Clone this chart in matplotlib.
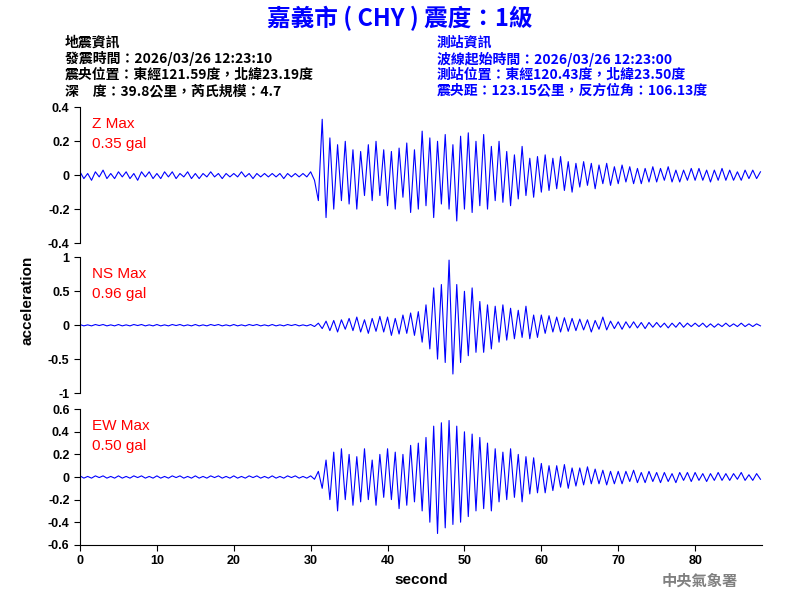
import numpy as np
import matplotlib
matplotlib.use("Agg")
import matplotlib.pyplot as plt

plt.rcParams['font.family'] = ['Liberation Sans', 'Noto Sans CJK TC', 'DejaVu Sans']

# peak values, one every 0.5 s
dt = 0.5
z_noise = [0.02,-0.02,0.01,-0.03,0.02,-0.01,0.03,-0.02,0.01,-0.02,
           0.02,-0.01,0.02,-0.02,0.01,-0.03,0.02,-0.01,0.02,-0.02,
           0.01,-0.02,0.02,-0.01,0.02,-0.02,0.01,-0.01,0.02,-0.02,
           0.01,-0.02,0.01,-0.01,0.02,-0.01,0.01,-0.02,0.01,-0.01,
           0.01,-0.01,0.02,-0.01,0.01,-0.02,0.01,-0.01,0.01,-0.01,
           0.01,-0.01,0.01,-0.02,0.01,-0.01,0.01,-0.01,0.01,-0.01]
z_event = [0.02,-0.03,-0.15,0.33,-0.25,0.22,-0.2,0.18,-0.15,0.2,
           -0.17,0.15,-0.2,0.14,-0.12,0.18,-0.15,0.2,-0.12,0.15,
           -0.18,0.14,-0.2,0.16,-0.13,0.19,-0.22,0.15,-0.2,0.26,
           -0.18,0.22,-0.25,0.2,-0.17,0.24,-0.2,0.18,-0.27,0.23,
           -0.2,0.25,-0.22,0.2,-0.18,0.24,-0.2,0.17,-0.15,0.2,
           -0.16,0.14,-0.18,0.12,-0.14,0.17,-0.12,0.1,-0.13,0.11,
           -0.1,0.12,-0.09,0.1,-0.08,0.11,-0.09,0.08,-0.1,0.07,
           -0.07,0.08,-0.06,0.07,-0.08,0.06,-0.05,0.07,-0.06,0.05,
           -0.05,0.06,-0.04,0.05,-0.05,0.04,-0.05,0.04,-0.04,0.05,
           -0.04,0.04,-0.03,0.05,-0.04,0.03,-0.04,0.03,-0.03,0.04,
           -0.03,0.04,-0.03,0.03,-0.04,0.03,-0.03,0.04,-0.03,0.03,
           -0.03,0.02,-0.03,0.03,-0.02,0.03,-0.02,0.02]
small_noise = [0.01,-0.01,0.005,-0.01,0.01,-0.005,0.01,-0.01,0.005,-0.01] * 6
ns_event = [0.01,-0.02,0.03,-0.05,0.06,-0.08,0.07,-0.1,0.08,-0.06,
            0.1,-0.08,0.12,-0.1,0.08,-0.12,0.1,-0.09,0.13,-0.1,
            0.12,-0.15,0.1,-0.13,0.15,-0.12,0.18,-0.15,0.2,-0.25,
            0.3,-0.35,0.55,-0.5,0.6,-0.55,0.96,-0.72,0.6,-0.55,
            0.5,-0.45,0.55,-0.4,0.35,-0.4,0.3,-0.35,0.28,-0.25,
            0.3,-0.22,0.25,-0.2,0.22,-0.18,0.28,-0.2,0.15,-0.18,
            0.15,-0.12,0.14,-0.1,0.12,-0.1,0.11,-0.09,0.1,-0.08,
            0.09,-0.07,0.08,-0.1,0.07,-0.06,0.12,-0.07,0.06,-0.05,
            0.05,-0.06,0.05,-0.04,0.05,-0.04,0.04,-0.05,0.04,-0.03,
            0.04,-0.03,0.03,-0.04,0.03,-0.03,0.04,-0.03,0.03,-0.02,
            0.03,-0.02,0.03,-0.03,0.02,-0.03,0.02,-0.02,0.03,-0.02,
            0.02,-0.02,0.03,-0.02,0.02,-0.02,0.02,-0.01]
ew_event = [0.01,-0.02,0.05,-0.1,0.15,-0.2,0.22,-0.3,0.25,-0.2,
            0.2,-0.25,0.18,-0.22,0.25,-0.2,0.15,-0.25,0.2,-0.18,
            0.25,-0.2,0.22,-0.28,0.2,-0.25,0.28,-0.22,0.3,-0.3,
            0.35,-0.4,0.45,-0.5,0.48,-0.45,0.5,-0.42,0.45,-0.4,
            0.4,-0.35,0.38,-0.3,0.35,-0.28,0.3,-0.3,0.25,-0.22,
            0.22,-0.2,0.25,-0.18,0.2,-0.22,0.18,-0.15,0.17,-0.14,
            0.12,-0.14,0.1,-0.12,0.1,-0.09,0.11,-0.1,0.08,-0.08,
            0.08,-0.07,0.09,-0.06,0.07,-0.06,0.06,-0.07,0.05,-0.06,
            0.05,-0.06,0.05,-0.04,0.06,-0.05,0.04,-0.05,0.05,-0.04,
            0.04,-0.05,0.04,-0.04,0.03,-0.05,0.04,-0.03,0.04,-0.04,
            0.04,-0.03,0.03,-0.04,0.03,-0.03,0.04,-0.03,0.03,-0.03,
            0.03,-0.02,0.04,-0.03,0.02,-0.03,0.03,-0.02]

z = np.array(z_noise + z_event)
ns = np.array(small_noise + ns_event)
ew = np.array(small_noise + ew_event)
channels = ["Z", "NS", "EW"]
peaks = ["0.35", "0.96", "0.50"]
ylims = [(-0.4, 0.4), (-1, 1), (-0.6, 0.6)]
yticks = [[-0.4, -0.2, 0, 0.2, 0.4], [-1, -0.5, 0, 0.5, 1],
          [-0.6, -0.4, -0.2, 0, 0.2, 0.4, 0.6]]

fig = plt.figure(figsize=(8, 6), dpi=100)
bottoms = [0.595, 0.345, 0.092]
cjk = ['Noto Sans CJK TC', 'DejaVu Sans']

for i, data in enumerate([z, ns, ew]):
    ax = fig.add_axes([0.1, bottoms[i], 0.8525, 0.226])
    t = np.arange(len(data)) * dt
    ax.plot(t, data, color="blue", lw=0.8)
    ax.set_xlim(0, 88.7)
    ax.set_ylim(*ylims[i])
    ax.set_yticks(yticks[i])
    ax.set_yticklabels([f"{v:g}" for v in yticks[i]], fontsize=9, fontweight="bold")
    for s in ["top", "right"]:
        ax.spines[s].set_visible(False)
    if i < 2:
        ax.spines["bottom"].set_visible(False)
        ax.set_xticks([])
    else:
        ax.set_xticks(range(0, 90, 10))
        ax.set_xticklabels([str(v) for v in range(0, 90, 10)], fontsize=9, fontweight="bold")
        ax.set_xlabel("second", fontsize=11, fontweight="bold")
    ax.tick_params(direction="out", length=4)
    ax.text(0.018, 0.93, f"{channels[i]} Max", transform=ax.transAxes,
            color="red", fontsize=11, va="top")
    ax.text(0.018, 0.78, f"{peaks[i]} gal", transform=ax.transAxes,
            color="red", fontsize=11, va="top")

fig.text(0.035, 0.5, "acceleration", rotation=90, ha="center", va="center",
         fontsize=11, fontweight="bold")
fig.text(0.5, 0.97, "嘉義市 ( CHY ) 震度：1級", ha="center", va="center",
         fontsize=17, fontweight="bold", color="blue", family=cjk)
left = ["地震資訊", "發震時間：2026/03/26 12:23:10",
        "震央位置：東經121.59度，北緯23.19度", "深　度：39.8公里，芮氏規模：4.7"]
right = ["測站資訊", "波線起始時間：2026/03/26 12:23:00",
         "測站位置：東經120.43度，北緯23.50度", "震央距：123.15公里，反方位角：106.13度"]
for k in range(4):
    y = 1 - (43 + 16 * k) / 600
    fig.text(0.081, y, left[k], fontsize=10, va="center", family=cjk, fontweight="bold")
    fig.text(0.546, y, right[k], fontsize=10, va="center", family=cjk,
             fontweight="bold", color="blue")
fig.text(0.875, 0.032, "中央氣象署", ha="center", va="center", fontsize=11,
         color="gray", family=cjk, fontweight="bold")

fig.savefig("out.png")
